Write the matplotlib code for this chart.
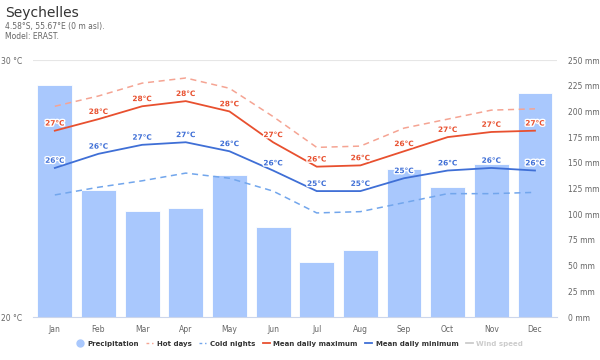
import matplotlib
matplotlib.use("Agg")
import matplotlib.pyplot as plt
import matplotlib.patheffects as pe
from matplotlib.lines import Line2D
import numpy as np

months = ["Jan", "Feb", "Mar", "Apr", "May", "Jun",
          "Jul", "Aug", "Sep", "Oct", "Nov", "Dec"]
precip = [226, 124, 103, 106, 138, 88, 54, 65, 144, 126, 149, 218]
hot_days = [28.2, 28.6, 29.1, 29.3, 28.9, 27.8, 26.6, 26.65, 27.35, 27.7, 28.05, 28.1]
cold_nights = [24.75, 25.05, 25.3, 25.6, 25.4, 24.9, 24.05, 24.1, 24.45, 24.8, 24.8, 24.85]
mean_max = [27.25, 27.7, 28.2, 28.4, 28.0, 26.8, 25.85, 25.9, 26.45, 27.0, 27.2, 27.25]
mean_min = [25.8, 26.35, 26.7, 26.8, 26.45, 25.7, 24.9, 24.9, 25.4, 25.7, 25.8, 25.7]

C_BAR = "#a9c8fd"
C_MAX = "#e8502f"
C_HOT = "#f5a493"
C_MIN = "#3f6fd6"
C_COLD = "#72a6ec"
C_GRID = "#e6e6e6"
C_TICK = "#666666"

plt.rcParams["font.family"] = ["DejaVu Sans"]

fig = plt.figure(figsize=(6, 3.6), dpi=100)
ax = fig.add_axes([0.055, 0.1194, 0.873, 0.7139])
ax2 = ax.twinx()

x = np.arange(len(months))

# precipitation bars on the right axis, drawn behind the temperature axis
ax2.bar(x, precip, width=0.8, color=C_BAR, edgecolor="white", linewidth=0.6, zorder=1)
ax2.set_ylim(0, 250)
ax2.set_yticks(np.arange(0, 251, 25))
ax2.set_yticklabels([f"{v} mm" for v in range(0, 251, 25)])
ax.set_zorder(ax2.get_zorder() + 1)
ax.patch.set_visible(False)

ax.plot(x, hot_days, color=C_HOT, lw=1.1, dashes=(4, 3))
ax.plot(x, cold_nights, color=C_COLD, lw=1.1, dashes=(4, 3))
ax.plot(x, mean_max, color=C_MAX, lw=1.3)
ax.plot(x, mean_min, color=C_MIN, lw=1.3)

halo = [pe.withStroke(linewidth=2, foreground="white")]
for xi, v in zip(x, mean_max):
    ax.annotate(f"{round(v)}°C", (xi, v), xytext=(0, 3), textcoords="offset points",
                ha="center", va="bottom", fontsize=5.3, fontweight="bold",
                color=C_MAX, path_effects=halo)
for xi, v in zip(x, mean_min):
    ax.annotate(f"{round(v)}°C", (xi, v), xytext=(0, 3), textcoords="offset points",
                ha="center", va="bottom", fontsize=5.3, fontweight="bold",
                color=C_MIN, path_effects=halo)

ax.set_xlim(-0.5, 11.5)
ax.set_ylim(20, 30)
ax.set_yticks([20, 30])
ax.set_yticklabels(["20 °C", "30 °C"])
ax.set_xticks(x)
ax.set_xticklabels(months)
ax.axhline(30, color=C_GRID, lw=0.8, zorder=0)

for a in (ax, ax2):
    for s in a.spines.values():
        s.set_visible(False)
    a.tick_params(length=0, labelsize=5.5, colors=C_TICK)
ax.spines["bottom"].set_visible(True)
ax.spines["bottom"].set_color("#ccd6eb")
ax.spines["bottom"].set_linewidth(0.8)
ax.tick_params(axis="x", pad=6)
ax.tick_params(axis="y", pad=8)
ax2.tick_params(axis="y", pad=8)

fig.text(0.008, 0.965, "Seychelles", fontsize=10, color="#333333", va="center")
fig.text(0.008, 0.925, "4.58°S, 55.67°E (0 m asl).", fontsize=5.5, color="#666666", va="center")
fig.text(0.008, 0.898, "Model: ERAST.", fontsize=5.5, color="#666666", va="center")

handles = [
    Line2D([], [], marker="o", ls="", color=C_BAR, markersize=5),
    Line2D([], [], color=C_HOT, lw=1, dashes=(2, 2)),
    Line2D([], [], color=C_COLD, lw=1, dashes=(2, 2)),
    Line2D([], [], color=C_MAX, lw=1.3),
    Line2D([], [], color=C_MIN, lw=1.3),
    Line2D([], [], color="#cccccc", lw=1.3),
]
labels = ["Precipitation", "Hot days", "Cold nights",
          "Mean daily maximum", "Mean daily minimum", "Wind speed"]
leg = fig.legend(handles, labels, loc="center", bbox_to_anchor=(0.5, 0.045), ncol=6,
                 frameon=False, handlelength=1.0, handletextpad=0.5, columnspacing=1.1,
                 prop={"size": 5, "weight": "bold"})
for t in leg.get_texts():
    t.set_color("#333333")
leg.get_texts()[-1].set_color("#cccccc")

fig.savefig("out.png", dpi=100)
